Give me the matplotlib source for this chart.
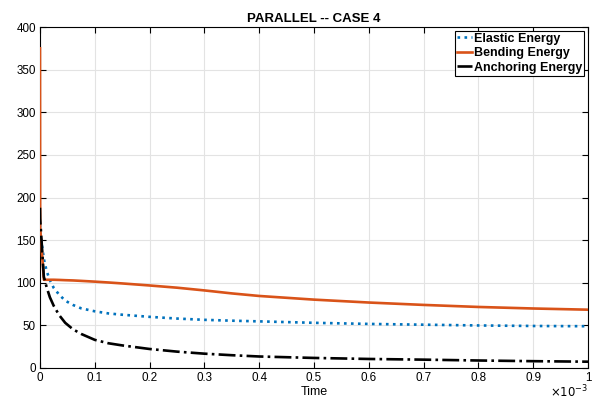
import numpy as np
import matplotlib
matplotlib.use("Agg")
import matplotlib.pyplot as plt
from matplotlib.ticker import FuncFormatter

# time in units of 1e-3
time_ms = [0, 0.0003, 0.007, 0.012, 0.018, 0.025, 0.035, 0.046, 0.06, 0.075,
           0.1, 0.125, 0.15, 0.2, 0.25, 0.3, 0.35, 0.4, 0.5, 0.6, 0.7, 0.8, 0.9, 1.0]
elastic = [168, 160, 128, 114, 103, 94, 86, 79, 74, 70,
           66.5, 64, 62.5, 60, 58, 56.5, 55.5, 54.7, 53, 51.7, 50.8, 49.9, 49.3, 49]
bending = [375, 165, 103.5, 103.5, 103.5, 103.5, 103.3, 103, 102.7, 102.2,
           101.3, 100.3, 99.2, 96.8, 94.2, 91, 87.5, 84.5, 80.2, 76.8, 74, 71.6, 69.8, 68.4]
anchoring = [188, 175, 107, 95, 83, 73, 62, 53, 45.5, 40,
             33, 29, 26.5, 22.3, 19.2, 16.8, 15, 13.5, 11.8, 10.6, 9.8, 8.8, 8.0, 7.4]

plt.rcParams['font.family'] = ['Liberation Sans', 'DejaVu Sans']

t = np.array(time_ms) * 1e-3

fig = plt.figure(figsize=(6, 4.01), dpi=100)
ax = fig.add_axes([40 / 600, 33 / 401, 548 / 600, 341 / 401])

ax.plot(t, elastic, ':', color='#0072BD', lw=1.9, label='Elastic Energy', zorder=3)
ax.plot(t, bending, '-', color='#D95319', lw=1.9, label='Bending Energy', zorder=3)
ax.plot(t, anchoring, '-.', color='black', lw=1.9, label='Anchoring Energy', zorder=3)

ax.set_xlim(0, 1e-3)
ax.set_ylim(0, 400)
ax.set_xticks(np.arange(0, 11) * 1e-4)
ax.set_yticks(np.arange(0, 401, 50))
ax.xaxis.set_major_formatter(FuncFormatter(lambda v, p: '%g' % round(v * 1e3, 3)))
ax.tick_params(direction='in', length=4, width=0.8, labelsize=8.4,
               top=True, right=True, pad=3)
ax.grid(True, color='#e3e3e3', lw=0.8)
ax.set_axisbelow(True)
for s in ax.spines.values():
    s.set_linewidth(0.8)

ax.set_title('PARALLEL -- CASE 4', fontsize=9.5, fontweight='bold', pad=3.5)
ax.set_xlabel('Time', fontsize=9, labelpad=1)
ax.text(1.0, -0.045, r'$\times10^{-3}$', transform=ax.transAxes,
        ha='right', va='top', fontsize=8.4)

leg = ax.legend(loc='upper right', prop={'weight': 'bold', 'size': 9},
                handlelength=1.2, handletextpad=0.2, labelspacing=0.2,
                borderpad=0.15, borderaxespad=0.3, fancybox=False,
                framealpha=1, edgecolor='black')
leg.get_frame().set_linewidth(0.8)

fig.savefig('out.png', dpi=100)
